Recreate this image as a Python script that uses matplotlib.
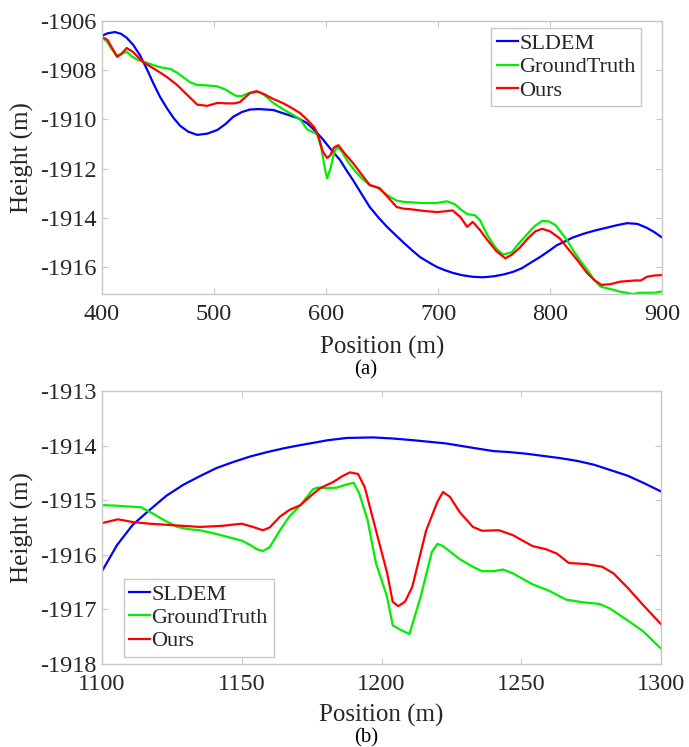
import matplotlib
matplotlib.use('Agg')
import matplotlib.pyplot as plt

plt.rcParams['font.family'] = ['Liberation Serif', 'DejaVu Serif']
plt.rcParams['axes.unicode_minus'] = False

# Profile (a): 400-900 m
a_sldem_x = [400, 405, 411.6, 417, 422, 428, 434, 440, 446, 452, 458, 464, 470, 477, 485,
             494, 503, 510, 517, 525, 532, 540, 553, 565, 575, 583, 590, 597, 604, 612.5,
             618, 624, 632, 639, 647, 654.5, 662, 669, 677, 684, 692, 699, 706, 713, 722,
             731, 740, 750, 759, 767, 775, 783, 791, 799, 806, 813, 820.5, 830, 840, 851,
             860, 869, 878, 886, 893, 900]
a_sldem_y = [-1906.6, -1906.5, -1906.45, -1906.52, -1906.68, -1906.98, -1907.4, -1907.95,
             -1908.55, -1909.1, -1909.55, -1909.95, -1910.27, -1910.5, -1910.63, -1910.58,
             -1910.43, -1910.2, -1909.9, -1909.7, -1909.6, -1909.58, -1909.62, -1909.8,
             -1909.95, -1910.15, -1910.45, -1910.8, -1911.2, -1911.65, -1912.05, -1912.46,
             -1913.05, -1913.56, -1914.0, -1914.37, -1914.7, -1915.0, -1915.33, -1915.6,
             -1915.82, -1916.0, -1916.13, -1916.24, -1916.34, -1916.4, -1916.42, -1916.38,
             -1916.3, -1916.2, -1916.05, -1915.82, -1915.6, -1915.35, -1915.12, -1914.97,
             -1914.8, -1914.65, -1914.52, -1914.4, -1914.3, -1914.22, -1914.25, -1914.4,
             -1914.58, -1914.8]

a_gt_x = [400, 404, 408, 413, 417, 422, 427, 432, 438, 445, 452, 461, 467, 473, 479, 485,
          494, 503, 510, 515, 520, 525, 530, 535, 541, 546, 552, 557, 562, 570, 577, 583,
          592, 596, 599, 601, 604, 607, 610, 614, 620, 626, 632, 639, 645, 651, 657, 663,
          669, 685, 699, 708, 715, 720, 726, 733, 737.5, 744, 751, 758, 766, 772, 779, 786,
          793, 799, 805, 810, 815, 821, 827, 833, 839, 845, 854, 862, 874, 880, 887, 893,
          900]
a_gt_y = [-1906.7, -1906.8, -1907.1, -1907.4, -1907.35, -1907.25, -1907.45, -1907.58,
          -1907.67, -1907.78, -1907.88, -1907.95, -1908.1, -1908.3, -1908.5, -1908.6,
          -1908.62, -1908.66, -1908.78, -1908.92, -1909.05, -1909.05, -1908.95, -1908.9,
          -1908.9, -1909.05, -1909.3, -1909.45, -1909.6, -1909.8, -1910.0, -1910.4,
          -1910.6, -1911.2, -1912.0, -1912.4, -1912.0, -1911.4, -1911.1, -1911.3, -1911.75,
          -1912.1, -1912.4, -1912.67, -1912.75, -1912.95, -1913.15, -1913.3, -1913.35,
          -1913.4, -1913.4, -1913.33, -1913.45, -1913.65, -1913.85, -1913.9, -1914.1,
          -1914.7, -1915.2, -1915.5, -1915.4, -1915.05, -1914.7, -1914.35, -1914.13,
          -1914.15, -1914.3, -1914.6, -1914.9, -1915.35, -1915.75, -1916.1, -1916.5,
          -1916.8, -1916.9, -1917.0, -1917.1, -1917.05, -1917.05, -1917.05, -1917.0]

a_ours_x = [400, 405, 409, 413.6, 417, 422, 427.7, 436.6, 445, 452, 458, 467, 476, 485, 494,
            503, 511.6, 518, 523, 528, 532, 538, 545, 552, 562, 570, 577, 584, 590, 594,
            597, 601, 604, 607, 611, 617, 624, 632, 639, 648, 655, 663, 669, 675, 687, 699,
            706, 713, 720, 726, 731, 737.5, 744, 752, 760, 766, 773, 780, 787, 793, 800,
            809, 815, 824, 833, 840, 846, 854, 862.5, 876, 881, 886.6, 893, 900]
a_ours_y = [-1906.65, -1906.77, -1907.1, -1907.46, -1907.35, -1907.1, -1907.26, -1907.67,
            -1907.9, -1908.1, -1908.28, -1908.6, -1909.0, -1909.4, -1909.45, -1909.33,
            -1909.35, -1909.35, -1909.3, -1909.1, -1908.93, -1908.85, -1908.98, -1909.15,
            -1909.35, -1909.55, -1909.75, -1910.05, -1910.35, -1910.8, -1911.3, -1911.57,
            -1911.45, -1911.15, -1911.05, -1911.4, -1911.77, -1912.25, -1912.67, -1912.8,
            -1913.15, -1913.56, -1913.63, -1913.65, -1913.72, -1913.77, -1913.74, -1913.7,
            -1913.97, -1914.37, -1914.17, -1914.5, -1914.9, -1915.35, -1915.65, -1915.5,
            -1915.22, -1914.85, -1914.55, -1914.45, -1914.55, -1914.85, -1915.2, -1915.7,
            -1916.24, -1916.55, -1916.73, -1916.7, -1916.6, -1916.55, -1916.55, -1916.4,
            -1916.35, -1916.33]

# Profile (b): 1100-1300 m
b_sldem_x = [1100, 1105.4, 1111, 1117, 1123, 1129, 1135, 1141, 1147, 1153, 1159, 1165, 1170,
             1175.5, 1181, 1187.6, 1197, 1204, 1211, 1217, 1223, 1229, 1235, 1240, 1246,
             1252, 1258, 1264, 1270, 1276, 1282, 1288, 1293.6, 1300]
b_sldem_y = [-1916.3, -1915.82, -1915.45, -1915.18, -1914.92, -1914.72, -1914.56, -1914.41,
             -1914.3, -1914.2, -1914.12, -1914.05, -1914.0, -1913.95, -1913.9, -1913.86,
             -1913.85, -1913.87, -1913.9, -1913.93, -1913.96, -1914.01, -1914.06, -1914.1,
             -1914.12, -1914.15, -1914.19, -1914.23, -1914.28, -1914.35, -1914.45,
             -1914.55, -1914.68, -1914.84]

b_gt_x = [1100, 1105, 1111, 1114, 1118, 1122, 1127, 1131, 1135, 1141, 1147, 1150, 1153,
          1155.5, 1157.6, 1160, 1163.7, 1167, 1171, 1175.5, 1177, 1181, 1184, 1187, 1190,
          1192, 1195, 1198, 1202, 1204, 1207, 1210, 1214, 1218, 1220, 1222, 1228, 1232.7,
          1236, 1240, 1243.5, 1247, 1254, 1260, 1266, 1272, 1278, 1281.6, 1288, 1293.6, 1300]
b_gt_y = [-1915.09, -1915.1, -1915.12, -1915.13, -1915.24, -1915.36, -1915.49, -1915.53,
          -1915.55, -1915.62, -1915.7, -1915.74, -1915.82, -1915.9, -1915.93, -1915.86,
          -1915.55, -1915.3, -1915.09, -1914.8, -1914.77, -1914.78, -1914.77, -1914.72,
          -1914.68, -1914.87, -1915.36, -1916.15, -1916.77, -1917.29, -1917.38, -1917.45,
          -1916.77, -1915.95, -1915.8, -1915.84, -1916.08, -1916.22, -1916.3, -1916.3,
          -1916.27, -1916.34, -1916.54, -1916.66, -1916.82, -1916.87, -1916.9, -1916.98,
          -1917.2, -1917.4, -1917.72]

b_ours_x = [1100, 1105.7, 1111, 1117, 1123, 1129, 1135, 1143, 1150, 1154, 1157.6, 1160,
            1163.7, 1167, 1171, 1174, 1178, 1182.6, 1186, 1188.7, 1191.6, 1194, 1198, 1202,
            1204, 1206, 1208.4, 1211, 1216, 1220, 1222, 1224.5, 1228, 1232.7, 1236, 1242,
            1247, 1254, 1259, 1262.8, 1267, 1273.5, 1279, 1283, 1288, 1293.6, 1300]
b_ours_y = [-1915.42, -1915.35, -1915.4, -1915.43, -1915.45, -1915.47, -1915.49, -1915.47,
            -1915.43, -1915.49, -1915.55, -1915.5, -1915.3, -1915.18, -1915.09, -1914.95,
            -1914.78, -1914.67, -1914.56, -1914.49, -1914.52, -1914.76, -1915.55, -1916.33,
            -1916.86, -1916.94, -1916.86, -1916.59, -1915.55, -1915.03, -1914.85, -1914.94,
            -1915.22, -1915.49, -1915.56, -1915.55, -1915.64, -1915.84, -1915.9, -1915.98,
            -1916.15, -1916.17, -1916.22, -1916.34, -1916.6, -1916.92, -1917.27]

labels = ['SLDEM', 'GroundTruth', 'Ours']
colors = ['#0000ff', '#00ee00', '#ff0000']
text_color = '#262626'
edge_color = '#c8c8c8'

fig = plt.figure(figsize=(6.89, 7.47), dpi=100)
ax1 = fig.add_axes([102 / 689, 1 - 294 / 747, 560 / 689, 273 / 747])
ax2 = fig.add_axes([102 / 689, 1 - 664 / 747, 559 / 689, 273 / 747])


def style_axes(ax, xlabel_y):
    for sp in ax.spines.values():
        sp.set_color(edge_color)
        sp.set_linewidth(1.0)
    ax.tick_params(direction='in', length=4, width=0.8, color=edge_color,
                   top=True, right=True, labelsize=17.5, labelcolor=text_color)
    ax.tick_params(axis='x', pad=7)
    ax.tick_params(axis='y', pad=4)
    ax.set_xlabel('Position (m)', fontsize=18, color=text_color)
    ax.set_ylabel('Height (m)', fontsize=18, color=text_color)
    ax.xaxis.set_label_coords(0.5, xlabel_y)
    ax.yaxis.set_label_coords(-0.122, 0.5)


series_a = [(a_sldem_x, a_sldem_y), (a_gt_x, a_gt_y), (a_ours_x, a_ours_y)]
for (x, y), c, lab in zip(series_a, colors, labels):
    ax1.plot(x, y, color=c, lw=1.6, label=lab, solid_joinstyle='round')
ax1.set_xlim(400, 900)
ax1.set_ylim(-1917.1, -1906)
ax1.set_xticks([400, 500, 600, 700, 800, 900])
ax1.set_yticks([-1916, -1914, -1912, -1910, -1908, -1906])
style_axes(ax1, -0.155)

series_b = [(b_sldem_x, b_sldem_y), (b_gt_x, b_gt_y), (b_ours_x, b_ours_y)]
for (x, y), c, lab in zip(series_b, colors, labels):
    ax2.plot(x, y, color=c, lw=1.6, label=lab, solid_joinstyle='round')
ax2.set_xlim(1100, 1300)
ax2.set_ylim(-1918, -1913)
ax2.set_xticks([1100, 1150, 1200, 1250, 1300])
ax2.set_yticks([-1918, -1917, -1916, -1915, -1914, -1913])
style_axes(ax2, -0.145)

leg_kw = dict(fontsize=16, handlelength=0.95, handletextpad=0.05, labelspacing=0.12,
              borderpad=0.25, borderaxespad=0, fancybox=False, framealpha=1,
              edgecolor=edge_color)
leg1 = ax1.legend(loc='upper right', bbox_to_anchor=(0.9625, 0.974), **leg_kw)
leg2 = ax2.legend(loc='lower left', bbox_to_anchor=(0.039, 0.026), **leg_kw)
for leg in (leg1, leg2):
    for t in leg.get_texts():
        t.set_color(text_color)
    leg.get_frame().set_linewidth(1.0)

fig.text(366 / 689, 1 - 370 / 747, '(a)', ha='center', va='center', fontsize=15, color='black')
fig.text(366 / 689, 1 - 738 / 747, '(b)', ha='center', va='center', fontsize=15, color='black')

fig.savefig('out.png', dpi=100)
